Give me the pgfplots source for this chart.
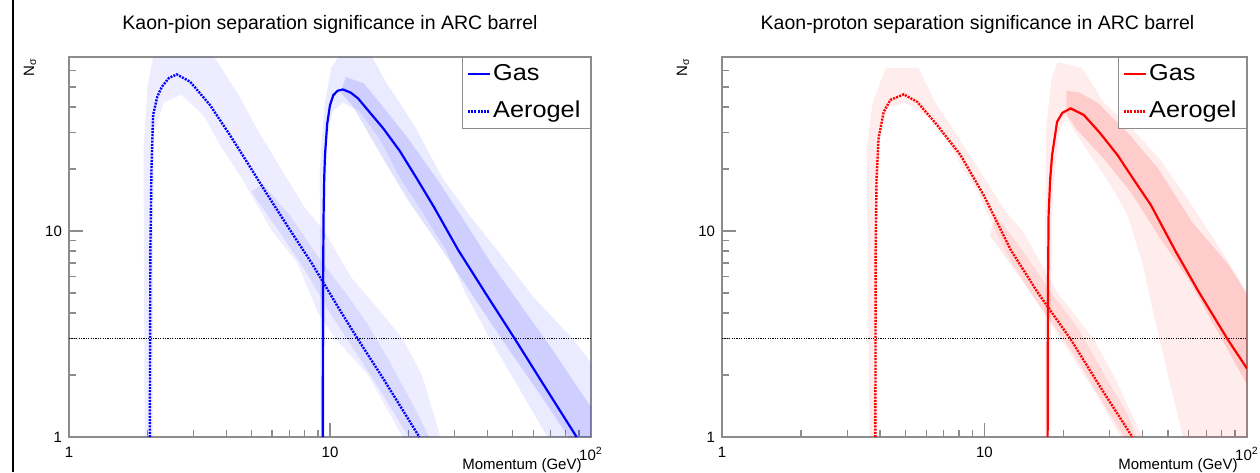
\documentclass[border=0pt]{standalone}
\usepackage{fontspec}
\setmainfont{Liberation Sans}
\usepackage{pgfplots}
\pgfplotsset{compat=1.18}
\pgfplotsset{legend image code/.code={\draw[#1] (0pt,0pt) -- (11pt,0pt);}}
\newcommand{\leg}[1]{\scalebox{1.1}[1]{#1}\hspace*{2pt}}

\begin{document}
\begin{tikzpicture}
\useasboundingbox (0,0) rectangle (630pt,236pt);
\draw[black, line width=1.15pt] (6.4pt,0pt) -- (6.4pt,236pt);

% ---------------- Left: Kaon-pion ----------------
\begin{axis}[at={(34.5pt,17.5pt)}, anchor=south west, width=261pt,
  scale only axis, height=190pt, xmode=log, ymode=log,
  xmin=1, xmax=100, ymin=1, ymax=70,
  axis line style={black!45, line width=0.6pt},
  xtick={1,10,100}, xticklabels={1,10,{10\textsuperscript{2}}},
  ytick={1,10}, yticklabels={1,10},
  minor xtick={2,3,4,5,6,7,8,9,20,30,40,50,60,70,80,90},
  minor ytick={2,3,4,5,6,7,8,9,20,30,40,50,60},
  tick align=inside, xtick pos=bottom, ytick pos=left,
  major tick length=7pt, minor tick length=3.5pt,
  tick style={black!45, line width=0.6pt},
  tick label style={font=\fontsize{7.5}{9}\selectfont},
  xticklabel style={yshift=-1.5pt},
  legend style={at={(1,1)}, anchor=north east, draw=black!45, fill=white,
    line width=0.6pt, font=\fontsize{11.5}{13}\selectfont,
    inner xsep=2pt, inner ysep=2pt, row sep=5.7pt,
    nodes={inner sep=1pt, text height=8.3pt, text depth=2.5pt}},
  legend cell align=left]
\addplot[fill=blue, fill opacity=0.08, draw=none, forget plot] coordinates {
(9.2,1) (9.15,20) (9.5,40) (10.1,62) (10.8,70) (14.5,70) (16.5,52) (18.5,42) (21.5,31) (27,18) (35,11.5) (44,8) (60,4.8) (85,3) (100,2.3) (100,1) (68,1) (52,1.8) (41,3) (33,5) (28,8) (22,13) (18.6,18) (15.5,28) (13,38) (11.2,42) (10.2,38) (9.75,28) (9.6,10) (9.55,1)} -- cycle;
\addplot[fill=blue, fill opacity=0.12, draw=none, forget plot] coordinates {
(11.5,56) (13.5,52) (16,40) (20,28) (26,17.5) (33,11) (42,6.8) (55,4.2) (72,2.6) (90,1.7) (100,1.4) (100,1) (82,1) (64,1.6) (49,2.6) (39,4) (31,6.2) (25,9.3) (20,14) (16.5,21) (14,30) (12.3,40) (11,47)} -- cycle;
\addplot[fill=blue, fill opacity=0.07, draw=none, forget plot] coordinates {
(1.95,1) (1.93,25) (2.0,50) (2.1,70) (3.6,70) (4.5,45) (5.2,32) (6.5,20) (8,13) (9.5,10) (12,6) (15.5,4.1) (19,3) (22.5,2) (26.5,1) (19,1) (14,2) (10.5,3) (9,4) (7.5,7) (6,10) (4.6,18) (3.8,26) (3.3,36) (2.7,46) (2.3,42) (2.12,30) (2.1,10) (2.09,1)} -- cycle;
\addplot[fill=blue, fill opacity=0.08, draw=none, forget plot] coordinates {
(5.5,17) (7,12) (9,7.5) (11.5,5) (14,3.5) (17,2.3) (21,1.4) (24,1) (20,1) (15.5,1.7) (12.5,2.6) (10,4) (8,6.5) (6.2,10.5) (5,15.5)} -- cycle;
\addplot[black, line width=0.5pt, dash pattern=on 0.6pt off 0.6pt, forget plot] coordinates {(1,3) (100,3)};
\addplot[blue, line width=1.1pt] coordinates {
(9.38,1) (9.40,5) (9.45,12) (9.50,18) (9.57,23.4) (9.75,33) (10.0,40.9) (10.3,45.7) (10.7,48) (11.2,48.7) (12.0,47) (12.8,44.1) (14.0,38.5) (16.0,31.5) (18.5,24.5) (21.5,18) (25,13.1) (31,8.08) (40,4.85) (51.2,2.98) (65,1.84) (88.1,1)};
\addlegendentry{\leg{Gas}}
\addplot[blue, line width=1.2pt, dash pattern=on 1pt off 0.6pt] coordinates {
(2.04,1) (2.05,8) (2.07,20) (2.10,36.6) (2.18,45) (2.27,50.2) (2.42,55.5) (2.59,57.6) (2.91,53.1) (3.47,40.9) (4.14,29.2) (4.80,21.7) (5.72,15.2) (7.0,10.2) (8.5,7.0) (10.9,4.14) (12.8,2.98) (16,1.92) (22,1.0)};
\addlegendentry{\leg{Aerogel}}
\end{axis}

% ---------------- Right: Kaon-proton ----------------
\begin{axis}[at={(361pt,17.5pt)}, anchor=south west, width=262.5pt,
  scale only axis, height=190pt, xmode=log, ymode=log,
  xmin=1, xmax=100, ymin=1, ymax=70,
  axis line style={black!45, line width=0.6pt},
  xtick={1,10,100}, xticklabels={1,10,{10\textsuperscript{2}}},
  ytick={1,10}, yticklabels={1,10},
  minor xtick={2,3,4,5,6,7,8,9,20,30,40,50,60,70,80,90},
  minor ytick={2,3,4,5,6,7,8,9,20,30,40,50,60},
  tick align=inside, xtick pos=bottom, ytick pos=left,
  major tick length=7pt, minor tick length=3.5pt,
  tick style={black!45, line width=0.6pt},
  tick label style={font=\fontsize{7.5}{9}\selectfont},
  xticklabel style={yshift=-1.5pt},
  legend style={at={(1,1)}, anchor=north east, draw=black!45, fill=white,
    line width=0.6pt, font=\fontsize{11.5}{13}\selectfont,
    inner xsep=2pt, inner ysep=2pt, row sep=5.7pt,
    nodes={inner sep=1pt, text height=8.3pt, text depth=2.5pt}},
  legend cell align=left]
\addplot[fill=red, fill opacity=0.07, draw=none, forget plot] coordinates {
(17.0,1) (17.1,30) (18,55) (19,66) (23.5,62) (28.5,42) (36,32) (47,22) (60,14) (80,8) (92,6) (100,4.8) (100,1) (57,1) (50,2) (44,4) (40,7) (35,12) (30,17) (25.3,23.4) (21.5,32) (20.5,36) (19.2,30) (18.2,15) (17.7,1)} -- cycle;
\addplot[fill=red, fill opacity=0.14, draw=none, forget plot] coordinates {
(20.5,48) (23,47) (27,42) (36,29) (46,20) (62,11) (84,7) (100,5) (100,1.8) (80,3) (60,5.8) (46,9.5) (36,15.5) (28,23) (22.5,31) (20.5,37)} -- cycle;
\addplot[fill=red, fill opacity=0.07, draw=none, forget plot] coordinates {
(3.65,1) (3.55,25) (3.75,42) (4.2,62) (5.6,62) (6.5,42) (7.5,32) (9.5,20) (12,12.5) (14,10) (19,5) (26,3) (31,2) (40,1) (33,1) (26,1.7) (19.5,3) (15,5) (12,8) (9.5,15) (7.5,25) (6.3,35) (5,42) (4.3,40) (4.0,30) (3.9,10) (3.88,1)} -- cycle;
\addplot[fill=red, fill opacity=0.09, draw=none, forget plot] coordinates {
(11,12) (14,8) (18,5) (23,3.3) (28,2.1) (35,1.3) (38,1) (34,1) (28,1.5) (22,2.5) (17,4) (13,6.5) (10.5,9.5)} -- cycle;
\addplot[black, line width=0.5pt, dash pattern=on 0.6pt off 0.6pt, forget plot] coordinates {(1,3) (100,3)};
\addplot[red, line width=1.1pt] coordinates {
(17.4,1) (17.45,5) (17.55,12) (17.8,18) (18.1,23.4) (18.9,33.9) (19.8,37.5) (21.3,39.4) (23.9,36.6) (27.5,30) (32.1,23.4) (37,17.8) (43,13.4) (53.6,7.93) (65,5.15) (84.4,2.98) (100,2.15)};
\addlegendentry{\leg{Gas}}
\addplot[red, line width=1.2pt, dash pattern=on 1pt off 0.6pt] coordinates {
(3.84,1) (3.85,8) (3.88,18) (3.95,28.2) (4.13,37.9) (4.38,43.3) (4.92,46.1) (5.54,42.4) (6.60,32.7) (8.10,23.4) (9.94,14.9) (12.6,8.08) (16,5.0) (21.3,2.98) (28,1.7) (36.6,1)};
\addlegendentry{\leg{Aerogel}}
\end{axis}

\node[font=\fontsize{9.75}{11}\selectfont] at (165pt,224pt) {Kaon-pion separation significance in ARC barrel};
\node[font=\fontsize{9.75}{11}\selectfont] at (488.75pt,224pt) {Kaon-proton separation significance in ARC barrel};
\node[font=\fontsize{7.5}{9}\selectfont, rotate=90, anchor=east, inner sep=0pt] at (15pt,207pt) {N\textsubscript{σ}};
\node[font=\fontsize{7.5}{9}\selectfont, rotate=90, anchor=east, inner sep=0pt] at (341.5pt,207pt) {N\textsubscript{σ}};
\node[font=\fontsize{7.5}{9}\selectfont, anchor=base east, inner sep=0pt] at (291pt,1.5pt) {Momentum (GeV)};
\node[font=\fontsize{7.5}{9}\selectfont, anchor=base east, inner sep=0pt] at (619pt,1.5pt) {Momentum (GeV)};
\end{tikzpicture}
\end{document}
